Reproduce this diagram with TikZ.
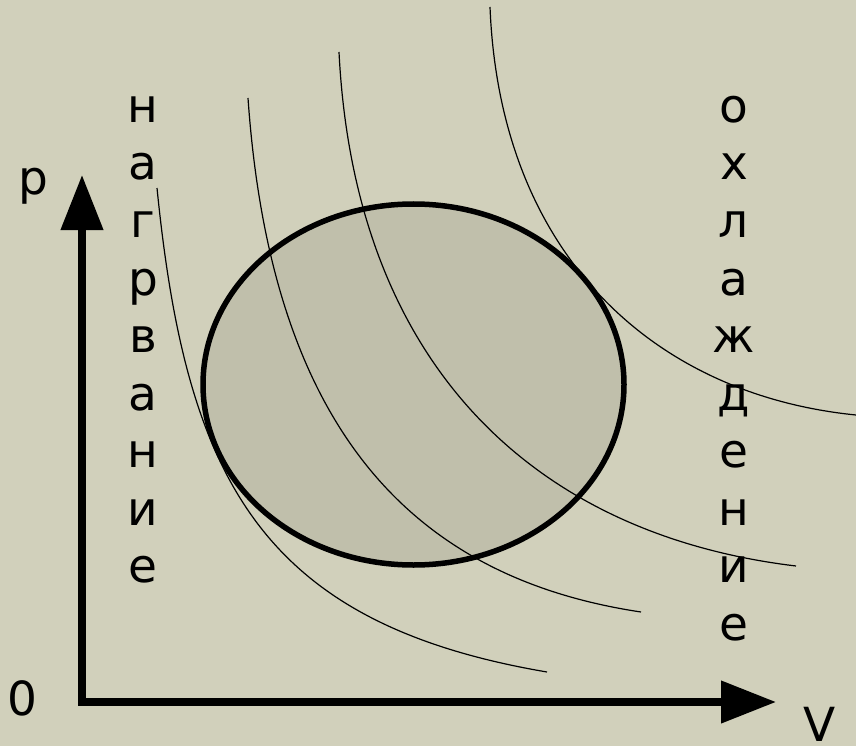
\documentclass[tikz,border=0pt]{standalone}
\usepackage{fontspec}
\setmainfont{DejaVu Sans}
\usetikzlibrary{arrows.meta,shapes.geometric}
\definecolor{slidebg}{RGB}{209,208,187}
\definecolor{cyclefill}{RGB}{192,191,171}
\def\xHeat{143}
\def\xCool{734}
\def\yFirst{122.5}
\def\dyLetter{57.5}
\tikzset{
  pvaxis/.style={line width=7.5pt, -{Triangle[length=55pt,width=41pt]}},
  isotherm/.style={line width=1.2pt},
  letter/.style={font=\fontsize{47}{56}\selectfont, anchor=base, inner sep=0pt},
}

\begin{document}
\begin{tikzpicture}[x=1pt,y=-1pt]
  \fill[slidebg] (0,0) rectangle (856,746);
  \useasboundingbox (0,0) rectangle (856,746);

  % cycle
  \node[ellipse, draw, line width=5.5pt, fill=cyclefill, inner sep=0pt,
        minimum width=421pt, minimum height=361pt] (cycle) at (413.5,384.5) {};

  % isotherms
  \draw[isotherm] (157,188) .. controls (186,477) and (259,623) .. (547,672);
  \draw[isotherm] (248,98) .. controls (271,428) and (411,577.5) .. (641,612);
  \draw[isotherm] (339,52) .. controls (354.75,367) and (536,534.8) .. (796,566);
  \draw[isotherm] (490,7) .. controls (500,257) and (656,395) .. (856,415);

  % axes
  \coordinate (O) at (82,702);
  \coordinate (ptip) at (82,175);
  \coordinate (vtip) at (776,702);
  \draw[pvaxis] ([yshift=-3.75pt]O) -- (ptip);
  \draw[pvaxis] ([xshift=-3.75pt]O) -- (vtip);
  \node[letter] (plabel) at (33,195) {p};
  \node[letter] (zero) at (22,715) {0};
  \node[letter] (vlabel) at (820,741) {V};

  % vertical words
  \foreach \ch [count=\i from 0] in {н,а,г,р,в,а,н,и,е}
    \node[letter] (heat\i) at (\xHeat,\yFirst+\i*\dyLetter) {\ch};
  \foreach \ch [count=\i from 0] in {о,х,л,а,ж,д,е,н,и,е}
    \node[letter] (cool\i) at (\xCool,\yFirst+\i*\dyLetter) {\ch};
\end{tikzpicture}
\end{document}
